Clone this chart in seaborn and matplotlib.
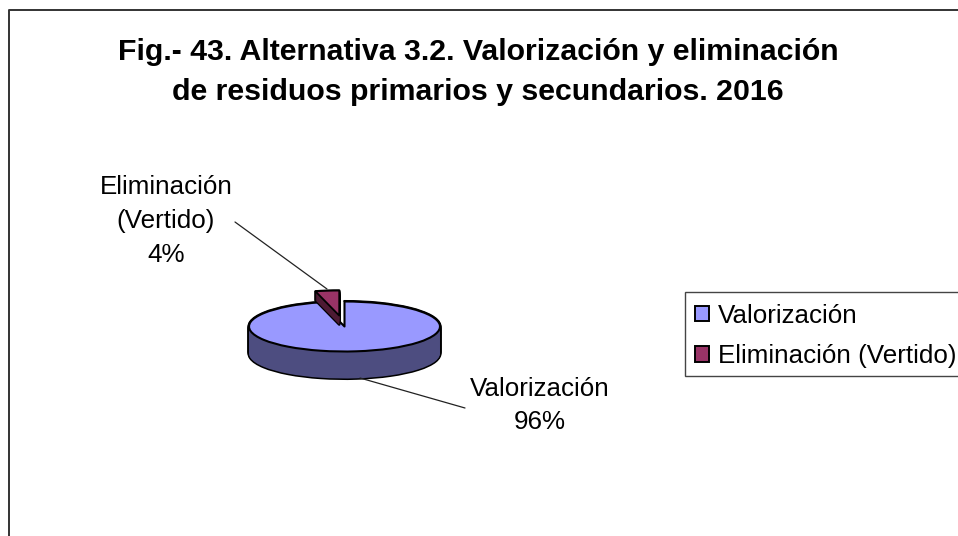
import matplotlib
matplotlib.use("Agg")
import matplotlib.pyplot as plt
import numpy as np
import seaborn as sns
from matplotlib.lines import Line2D
from matplotlib.patches import Patch, Rectangle

sns.set_theme(style="white")
plt.rcParams['font.family'] = ['Liberation Sans', 'DejaVu Sans']

title_lines = ["Fig.- 43. Alternativa 3.2. Valorización y eliminación",
               "de residuos primarios y secundarios. 2016"]
categories = ["Valorización", "Eliminación (Vertido)"]
point_labels = ["Valorización", "Eliminación\n(Vertido)"]
values = [96, 4]
top_colors = sns.color_palette(["#9999FF", "#993366"])
side_colors = sns.color_palette(["#4D4D80", "#4D1A33"])

W, H = 958, 536
fig = plt.figure(figsize=(W / 100, H / 100), dpi=100, facecolor="white")
ax = fig.add_axes([0, 0, 1, 1])

CX, CY, RX, RY = 344.5, 326.5, 95.5, 25.0   # pixel geometry of the tilted disc
DEPTH = 27 / RY
EXPLODE = 0.44
RED_DEPTH = 9 / RY


def px(x, y):
    return x / W, 1 - y / H


def pie(center_drop=0.0, colors=None, edge="none", lw=0.0, explode=None, show=(True, True), zorder=1):
    wedges, _ = ax.pie(values, startangle=90, counterclock=False, radius=1,
                       center=(0, -center_drop), colors=colors, explode=explode,
                       wedgeprops=dict(edgecolor=edge, linewidth=lw, joinstyle="round"))
    for w, s in zip(wedges, show):
        w.set_visible(s)
        w.set_zorder(zorder)
    return wedges


drops = np.linspace(DEPTH, 0, 30)
# wall silhouette, then wall fill
for d in drops:
    pie(d, ["black", "black"], "black", 2.2, show=(True, False), zorder=1)
for d in drops:
    pie(d, side_colors, "none", 0, show=(True, False), zorder=2)
# the gap left by the pulled-out slice
pie(0, ["white", "white"], zorder=3, show=(False, True))
# top face
main = pie(0, top_colors, "black", 1.5, show=(True, False), zorder=4)

# pulled-out slice
expl = [0, EXPLODE]
for d in np.linspace(RED_DEPTH, 0, 10):
    pie(d, ["black", "black"], "black", 1.8, explode=expl, show=(False, True), zorder=5)
for d in np.linspace(RED_DEPTH, 0, 10):
    pie(d, side_colors, "none", 0, explode=expl, show=(False, True), zorder=6)
red = pie(0, top_colors, "black", 1.3, explode=expl, show=(False, True), zorder=7)

ax.set_aspect("auto")
ax.set_xlim(-CX / RX, (W - CX) / RX)
ax.set_ylim((CY - H) / RY, CY / RY)
ax.axis("off")

# outer chart frame (runs off the right and bottom of the picture)
fig.add_artist(Line2D([9 / W, 9 / W, 1.0], [0, 1 - 10 / H, 1 - 10 / H], color="#333333", lw=1.4,
                      transform=fig.transFigure))

# title
for line, y in zip(title_lines, (59.5, 100.5)):
    fig.text(*px(478, y), line, ha="center", va="baseline", fontsize=21.8, fontweight="bold", color="black")

# data labels with leaders
LABEL_FS = 18.7
x, y = px(166, 221)
fig.text(x, y, f"{point_labels[1]}\n{values[1]}%", ha="center", va="center", fontsize=LABEL_FS,
         color="black", linespacing=1.52)
x, y = px(540, 405.5)
fig.text(x, y, f"{point_labels[0]}\n{values[0]}%", ha="center", va="center", fontsize=LABEL_FS,
         color="black", linespacing=1.52)
for (a, b) in (((235, 222), (327, 289)), ((360, 378), (465, 408))):
    xa, ya = px(*a)
    xb, yb = px(*b)
    fig.add_artist(Line2D([xa, xb], [ya, yb], color="#222222", lw=0.9, transform=fig.transFigure))

# legend: box is drawn separately so that it runs off the right edge like the reference
x0, y1 = px(685, 376)
_, y0 = px(685, 292)
fig.add_artist(Rectangle((x0, y1), 1.0, y0 - y1, transform=fig.transFigure, fill=True, fc="white",
                         ec="#444444", lw=1.0, zorder=2))
handles = [Patch(facecolor=c, edgecolor="black", linewidth=1.4) for c in top_colors]
leg = fig.legend(handles, categories, loc="upper left", bbox_to_anchor=px(685, 294),
                 bbox_transform=fig.transFigure, fontsize=LABEL_FS, frameon=False,
                 handlelength=0.53, handleheight=0.53,
                 handletextpad=0.36, labelspacing=0.63, borderpad=0.38, borderaxespad=0, labelcolor="black")
leg.set_zorder(3)

fig.savefig("out.png", dpi=100, facecolor="white")
